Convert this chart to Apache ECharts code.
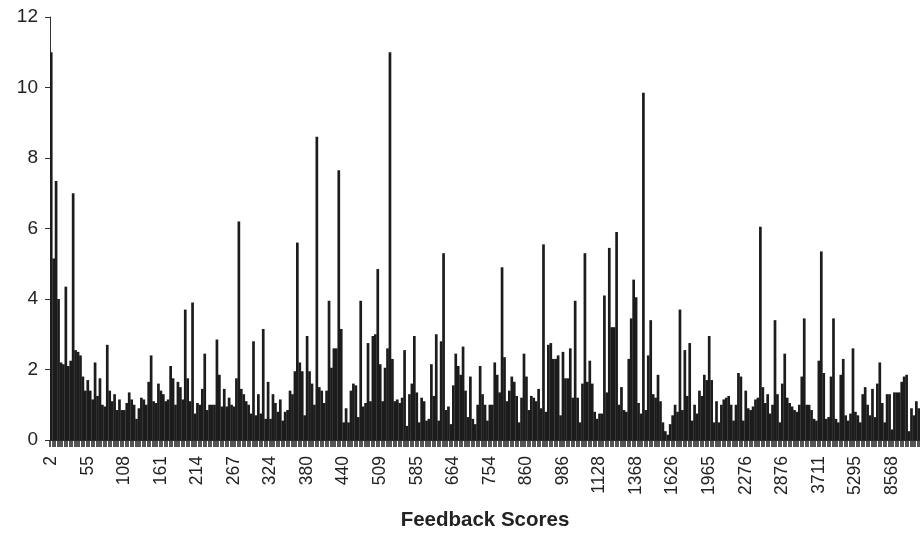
<!DOCTYPE html>
<html>
<head>
<meta charset="utf-8">
<script src="https://cdn.jsdelivr.net/npm/echarts@6/dist/echarts.min.js"></script>
<style>
html,body{margin:0;padding:0;background:#fff;}
#chart{width:920px;height:533px;}
</style>
</head>
<body>
<div id="chart"></div>
<script>
// Tick labels shown on the category axis (every 15th category)
const tickLabels = ['2','55','108','161','214','267','324','380','440','509','585','664','754','860','986','1128','1368','1626','1965','2276','2876','3711','5295','8568'];
const labelStep = 15;

// Bar values, left to right
const valuesA = [11.0,5.15,7.35,4.0,2.2,2.15,4.35,2.1,2.25,7.0,2.55,2.5,2.4,1.8,1.4,1.7,1.4,1.15,2.2,1.25,
1.75,1.0,0.95,2.7,1.4,1.1,1.3,0.85,1.15,0.85,0.85,1.05,1.35,1.15,1.0,0.6,0.9,1.2,1.15,1.0,
1.65,2.4,1.1,1.05,1.6,1.4,1.3,1.1,1.15,2.1,1.75,1.0,1.65,1.5,1.15,3.7,1.75,1.1,3.9,0.75,
1.05,1.0,1.45,2.45,0.85,1.0,1.0,1.0,2.85,1.85,0.95,1.45,0.95,1.2,1.0,0.95,1.75,6.2,1.45,1.3,
1.1,1.0,0.75,2.8,0.7,1.3,0.75,3.15];
const valuesB = [0.6,1.65,0.6,1.3,1.05,0.8,1.15,0.55,0.8,0.85,1.4,1.3,1.95,5.6,2.2,1.95,0.7,2.95,1.95,1.6,
1.0,8.6,1.5,1.4,1.05,1.4,3.95,2.05,2.6,2.6,7.65,3.15,0.5,0.9,0.5,1.4,1.6,1.55,0.65,3.95,
0.95,1.05,2.75,1.1,2.95,3.0,4.85,2.15,1.1,2.05,2.6,11.0,2.3,1.1,1.15,1.05,1.2,2.55,0.4,1.3,
1.6,2.95,1.35,0.5,1.2,1.1,0.55,0.6,2.15,1.25,3.0,0.55,2.8,5.3,0.85,0.95,0.45,1.55,2.45,2.1,
1.85,2.65,1.4,0.65,1.8,0.6,0.45,1.0,2.1,1.3];
const valuesC = [1.0,0.55,1.0,1.0,2.2,1.85,1.35,4.9,2.35,1.1,1.4,1.8,1.65,1.25,0.5,1.2,2.45,1.8,0.85,1.25,
1.2,1.1,1.45,0.9,5.55,0.8,2.7,2.75,2.3,2.3,2.4,0.7,2.5,1.75,1.75,2.6,1.2,3.95,1.2,0.5,
1.6,5.3,1.65,2.25,1.6,0.8,0.6,0.75,0.75,4.1,1.35,5.45,3.2,3.2,5.9,1.0,1.5,0.85,0.8,2.3,
3.45,4.55,4.05,1.05,0.75,9.85,0.85,2.4,3.4,1.3,1.2,1.85,1.1,0.5,0.25,0.15,0.45,0.7,1.0,0.8,
3.7,0.85,2.55,1.25,2.75,0.55,1.0,0.75,1.4,1.25,1.85];
const valuesD = [1.7,2.95,1.7,0.5,1.1,0.5,1.0,1.15,1.2,1.25,1.0,0.55,1.0,1.9,1.8,0.55,1.4,0.9,0.85,0.95,
1.15,1.2,6.05,1.5,1.05,1.3,0.75,1.0,3.4,1.3,0.5,1.6,2.45,1.2,1.05,0.95,0.85,0.8,1.0,1.8,
3.45,1.0,1.0,0.85,0.6,0.55,2.25,5.35,1.9,0.6,0.65,1.8,3.45,0.6,0.5,1.85,2.3,0.7,0.55,0.75,
2.6,0.8,0.7,0.5,1.3,1.5,1.0,0.7,1.45,0.65,1.6,2.2,1.05,0.5,1.3,1.3,0.3,1.35,1.35,1.35,
1.65,1.8,1.85,0.25,0.9,0.7,1.1,0.9];

const values = valuesA.concat(valuesB, valuesC, valuesD);
const categories = values.map((v, i) => (i % labelStep === 0 && tickLabels[i / labelStep] !== undefined) ? tickLabels[i / labelStep] : '#' + i);

const chart = echarts.init(document.getElementById('chart'), null, {renderer: 'canvas'});
chart.setOption({
  animation: false,
  backgroundColor: '#ffffff',
  grid: {left: 50, right: 0, top: 17, bottom: 93, containLabel: false, outerBoundsMode: 'none'},
  xAxis: {
    type: 'category',
    data: categories,
    boundaryGap: true,
    name: 'Feedback Scores',
    nameLocation: 'middle',
    nameGap: 70,
    nameTextStyle: {fontFamily: 'Liberation Sans, Arial, sans-serif', fontSize: 20.5, fontWeight: 'bold', color: '#222'},
    axisLine: {show: true, lineStyle: {color: '#333', width: 1}},
    axisTick: {show: true, interval: 0, length: 7, lineStyle: {color: '#2a2a2a', width: 1.6}},
    axisLabel: {
      interval: labelStep - 1,
      rotate: 90,
      margin: 16,
      fontFamily: 'Liberation Sans, Arial, sans-serif',
      fontSize: 17.5,
      color: '#222',
      formatter: function (val, idx) {
        return (idx % labelStep === 0 && tickLabels[idx / labelStep] !== undefined) ? tickLabels[idx / labelStep] : '';
      }
    },
    splitLine: {show: false}
  },
  yAxis: {
    type: 'value',
    min: 0,
    max: 12,
    interval: 2,
    axisLine: {show: true, lineStyle: {color: '#333', width: 1}},
    axisTick: {show: true, length: 5, lineStyle: {color: '#333'}},
    axisLabel: {margin: 12, fontFamily: 'Liberation Sans, Arial, sans-serif', fontSize: 19, color: '#222'},
    splitLine: {show: false}
  },
  series: [{
    type: 'bar',
    data: values,
    barWidth: 2.7,
    itemStyle: {color: '#1c1c1c'},
    emphasis: {disabled: true}
  }]
});
</script>
</body>
</html>
